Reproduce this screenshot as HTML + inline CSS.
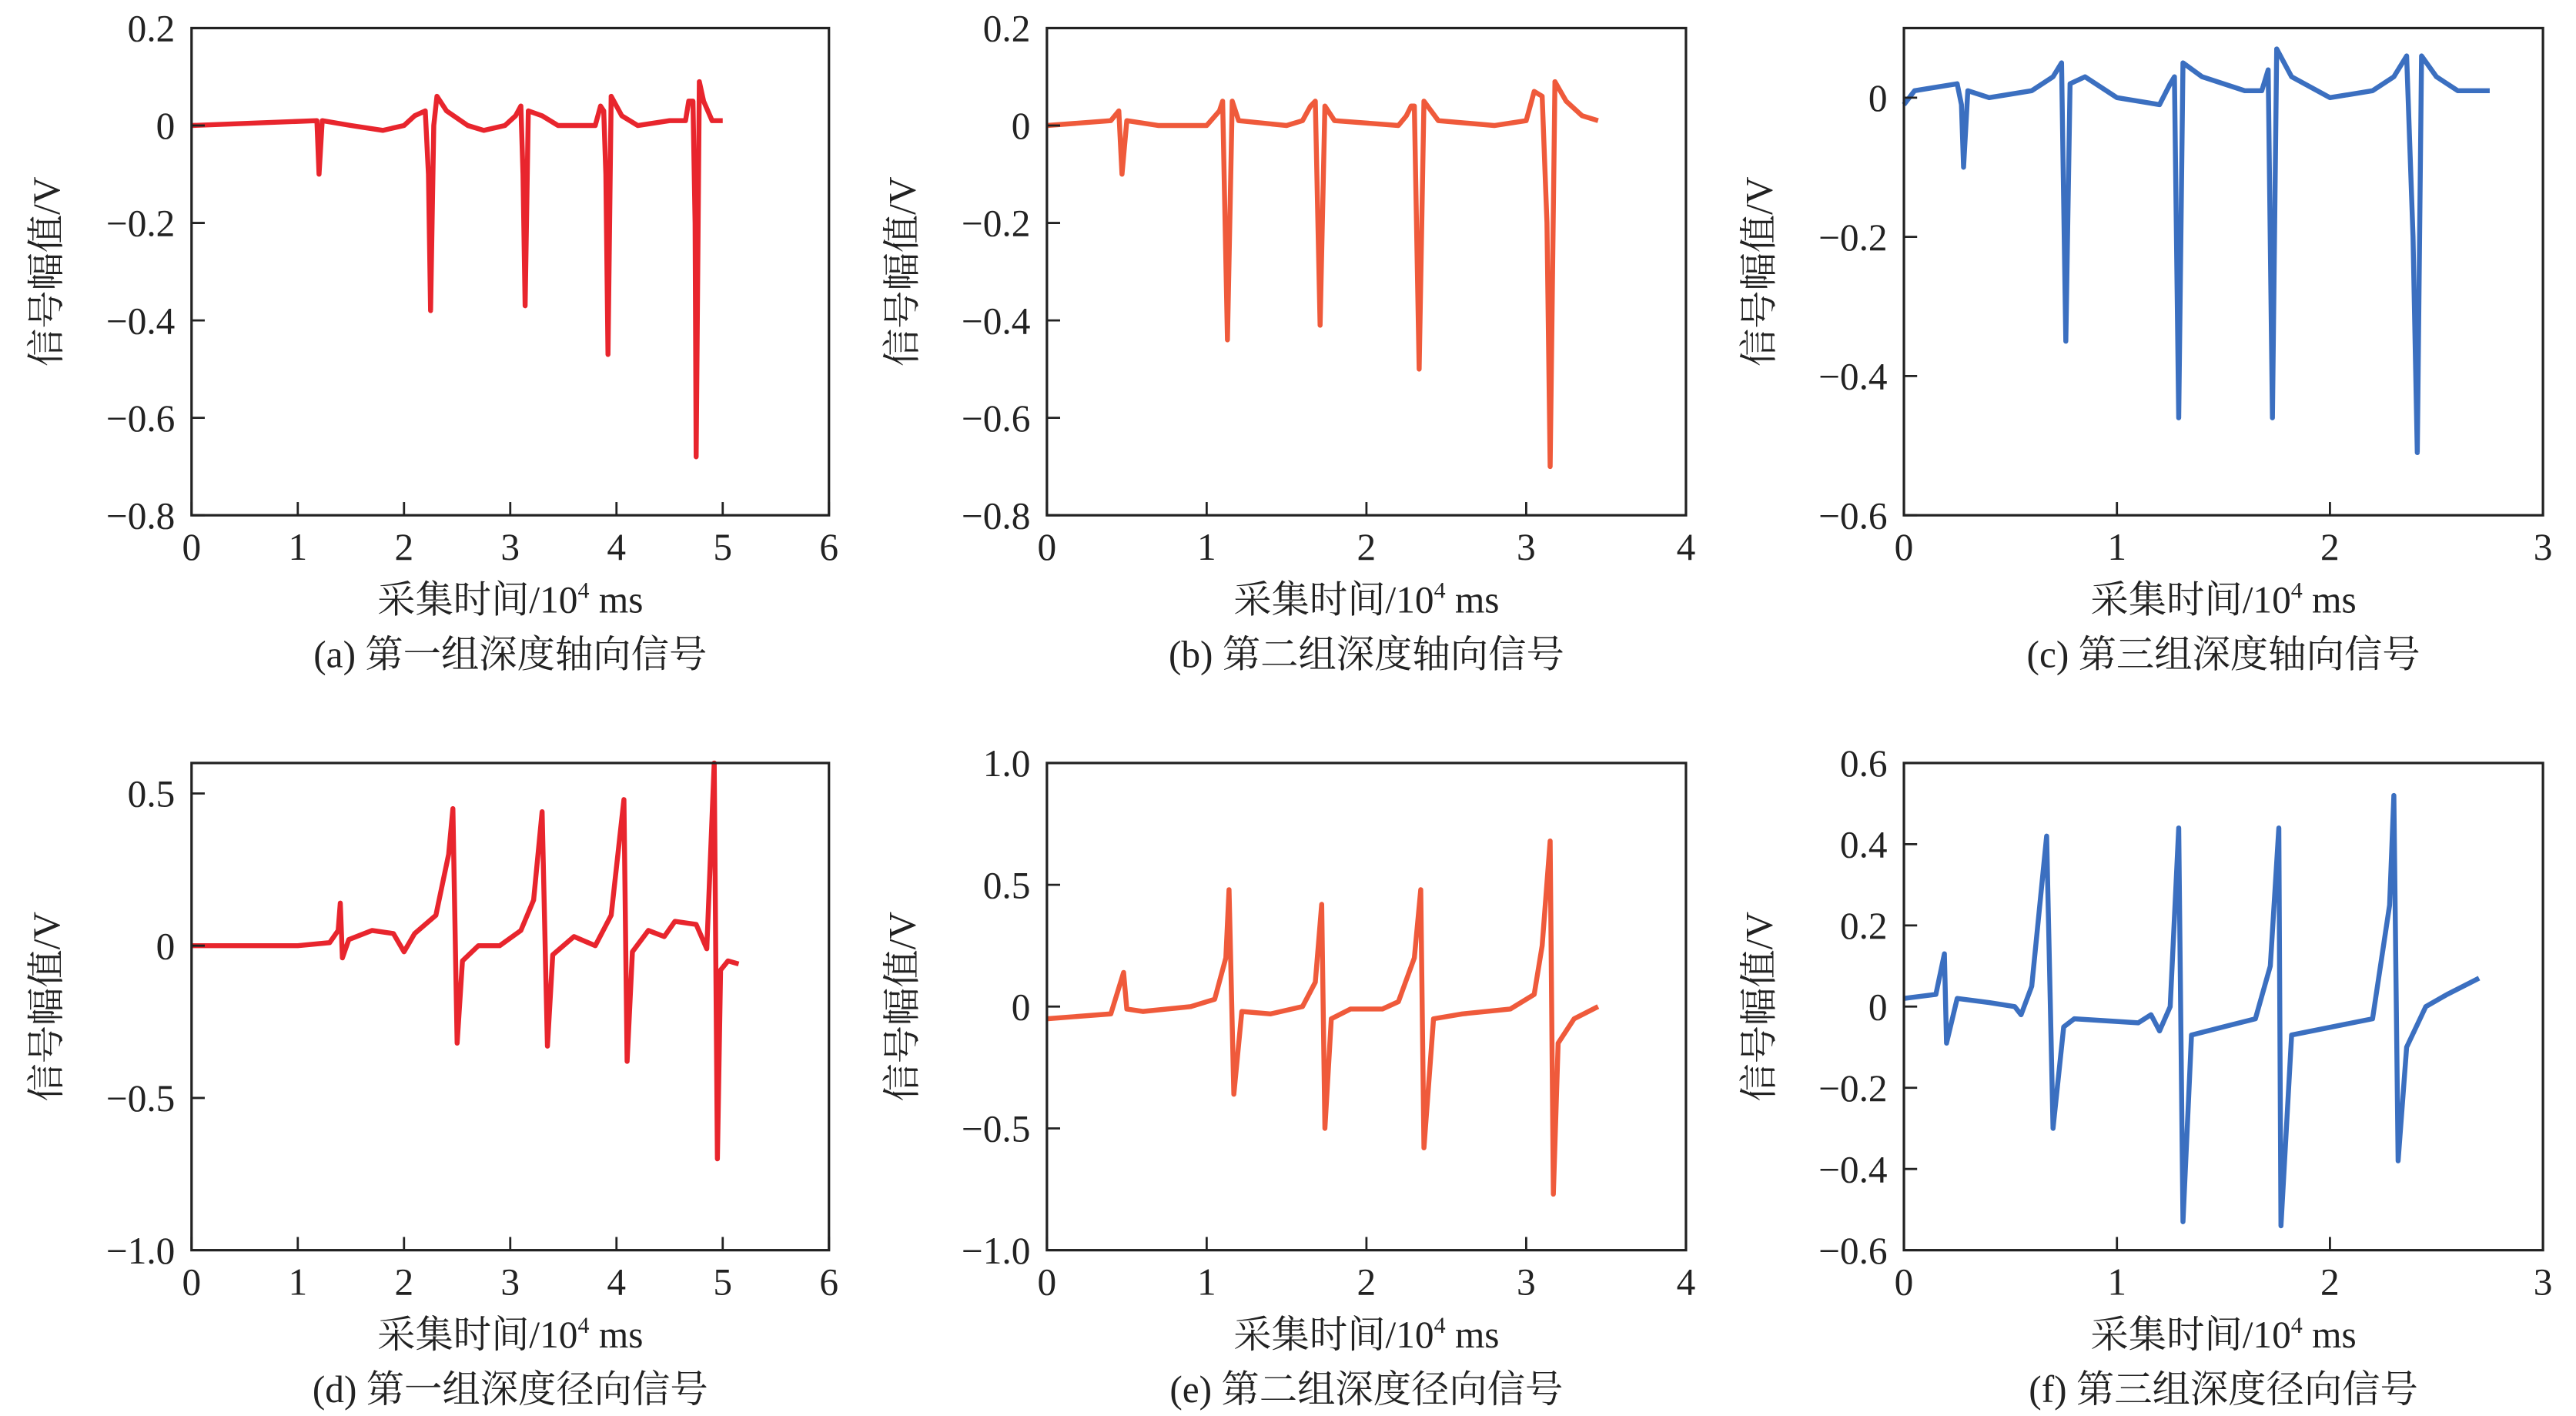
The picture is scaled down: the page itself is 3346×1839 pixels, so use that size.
<!DOCTYPE html>
<html><head><meta charset="utf-8"><style>
html,body{margin:0;padding:0;background:#fff;}
svg{display:block;}
svg text{font-family:"Liberation Serif","Times New Roman","Noto Serif CJK SC",serif !important;fill:#222;}
</style></head><body>
<svg id="fig" xmlns="http://www.w3.org/2000/svg" width="3346" height="1839" viewBox="0 0 1560 857.4" font-family="Liberation Serif, Noto Serif CJK SC, serif"></svg>
<script>
const dataA=[[0,0],[1.18,0.01],[1.2,-0.1],[1.23,0.01],[1.5,0],[1.8,-0.01],[2.0,0],[2.1,0.02],[2.2,0.03],[2.23,-0.1],[2.25,-0.38],[2.28,0.0],[2.31,0.06],[2.4,0.03],[2.6,0],[2.75,-0.01],[2.95,0],[3.05,0.02],[3.1,0.04],[3.12,-0.1],[3.14,-0.37],[3.17,0.03],[3.3,0.02],[3.45,0.0],[3.8,0.0],[3.85,0.04],[3.88,0.03],[3.9,-0.1],[3.92,-0.47],[3.95,0.06],[4.05,0.02],[4.2,0],[4.5,0.01],[4.65,0.01],[4.68,0.05],[4.72,0.05],[4.74,-0.2],[4.75,-0.68],[4.78,0.09],[4.82,0.05],[4.9,0.01],[5.0,0.01]];
const dataB=[[0,0],[0.4,0.01],[0.45,0.03],[0.47,-0.1],[0.5,0.01],[0.7,0],[1.0,0],[1.08,0.03],[1.1,0.05],[1.13,-0.44],[1.16,0.05],[1.2,0.01],[1.5,0],[1.6,0.01],[1.65,0.04],[1.68,0.05],[1.71,-0.41],[1.74,0.04],[1.8,0.01],[2.2,0],[2.25,0.02],[2.28,0.04],[2.3,0.04],[2.33,-0.5],[2.36,0.05],[2.45,0.01],[2.8,0],[3.0,0.01],[3.05,0.07],[3.1,0.06],[3.13,-0.2],[3.15,-0.7],[3.18,0.09],[3.25,0.05],[3.35,0.02],[3.45,0.01]];
const dataC=[[0,-0.01],[0.05,0.01],[0.25,0.02],[0.27,-0.01],[0.28,-0.1],[0.3,0.01],[0.4,0],[0.6,0.01],[0.7,0.03],[0.74,0.05],[0.76,-0.35],[0.78,0.02],[0.85,0.03],[1.0,0],[1.2,-0.01],[1.25,0.02],[1.27,0.03],[1.29,-0.46],[1.31,0.05],[1.4,0.03],[1.6,0.01],[1.68,0.01],[1.71,0.04],[1.73,-0.46],[1.75,0.07],[1.82,0.03],[2.0,0],[2.2,0.01],[2.3,0.03],[2.36,0.06],[2.39,-0.2],[2.41,-0.51],[2.43,0.06],[2.5,0.03],[2.6,0.01],[2.75,0.01]];
const dataD=[[0,0],[1.0,0],[1.3,0.01],[1.38,0.05],[1.4,0.14],[1.42,-0.04],[1.48,0.02],[1.7,0.05],[1.9,0.04],[2.0,-0.02],[2.1,0.04],[2.3,0.1],[2.42,0.3],[2.46,0.45],[2.5,-0.32],[2.55,-0.05],[2.7,0],[2.9,0.0],[3.1,0.05],[3.22,0.15],[3.3,0.44],[3.35,-0.33],[3.4,-0.03],[3.6,0.03],[3.8,0.0],[3.95,0.1],[4.07,0.48],[4.1,-0.38],[4.15,-0.02],[4.3,0.05],[4.45,0.03],[4.55,0.08],[4.75,0.07],[4.85,-0.01],[4.92,0.6],[4.95,-0.7],[4.98,-0.08],[5.05,-0.05],[5.15,-0.06]];
const dataE=[[0,-0.05],[0.4,-0.03],[0.48,0.14],[0.5,-0.01],[0.6,-0.02],[0.9,0.0],[1.05,0.03],[1.12,0.2],[1.14,0.48],[1.17,-0.36],[1.22,-0.02],[1.4,-0.03],[1.6,0],[1.68,0.1],[1.72,0.42],[1.74,-0.5],[1.78,-0.05],[1.9,-0.01],[2.1,-0.01],[2.2,0.02],[2.3,0.2],[2.34,0.48],[2.36,-0.58],[2.42,-0.05],[2.6,-0.03],[2.9,-0.01],[3.05,0.05],[3.1,0.25],[3.15,0.68],[3.17,-0.77],[3.2,-0.15],[3.3,-0.05],[3.45,0.0]];
const dataF=[[0,0.02],[0.15,0.03],[0.19,0.13],[0.2,-0.09],[0.25,0.02],[0.4,0.01],[0.52,0.0],[0.55,-0.02],[0.6,0.05],[0.67,0.42],[0.7,-0.3],[0.75,-0.05],[0.8,-0.03],[1.1,-0.04],[1.16,-0.02],[1.2,-0.06],[1.25,0.0],[1.29,0.44],[1.31,-0.53],[1.35,-0.07],[1.5,-0.05],[1.65,-0.03],[1.72,0.1],[1.76,0.44],[1.77,-0.54],[1.82,-0.07],[2.2,-0.03],[2.28,0.25],[2.3,0.52],[2.32,-0.38],[2.36,-0.1],[2.45,0.0],[2.55,0.03],[2.7,0.07]];
const xTicksA=[0,1,2,3,4,5,6], xTicksB=[0,1,2,3,4], xTicksC=[0,1,2,3];
const yTicksA=[0.2,0,-0.2,-0.4,-0.6,-0.8], yTicksC=[0,-0.2,-0.4,-0.6];
const yTicksD=[0.5,0,-0.5,-1.0], yTicksE=[1.0,0.5,0,-0.5,-1.0], yTicksF=[0.6,0.4,0.2,0,-0.2,-0.4,-0.6];
const captions=["(a) 第一组深度轴向信号","(b) 第二组深度轴向信号","(c) 第三组深度轴向信号","(d) 第一组深度径向信号","(e) 第二组深度径向信号","(f) 第三组深度径向信号"];

const NS="http://www.w3.org/2000/svg", svg=document.getElementById('fig');
function mk(tag,attrs,parent){const e=document.createElementNS(NS,tag);for(const k in attrs)e.setAttribute(k,attrs[k]);(parent||svg).appendChild(e);return e;}
function fmt(v,dec){if(v===0)return "0";const s=Math.abs(v).toFixed(dec);return (v<0?"\u2212":"")+s;}
const FS=23;
const panels=[
 {L:116,R:502,T:17,B:312,x0:0,x1:6,y0:-0.8,y1:0.2,xt:xTicksA,yt:yTicksA,dec:1,data:dataA,col:"#e8252d"},
 {L:634,R:1021,T:17,B:312,x0:0,x1:4,y0:-0.8,y1:0.2,xt:xTicksB,yt:yTicksA,dec:1,data:dataB,col:"#ef5a3b"},
 {L:1153,R:1540,T:17,B:312,x0:0,x1:3,y0:-0.6,y1:0.1,xt:xTicksC,yt:yTicksC,dec:1,data:dataC,col:"#3b6fc0"},
 {L:116,R:502,T:462,B:757,x0:0,x1:6,y0:-1.0,y1:0.6,xt:xTicksA,yt:yTicksD,dec:1,data:dataD,col:"#e8252d"},
 {L:634,R:1021,T:462,B:757,x0:0,x1:4,y0:-1.0,y1:1.0,xt:xTicksB,yt:yTicksE,dec:1,data:dataE,col:"#ef5a3b"},
 {L:1153,R:1540,T:462,B:757,x0:0,x1:3,y0:-0.6,y1:0.6,xt:xTicksC,yt:yTicksF,dec:1,data:dataF,col:"#3b6fc0"}
];
panels.forEach((p,i)=>{
 const g=mk('g',{});
 
 
 const sx=v=>p.L+(v-p.x0)/(p.x1-p.x0)*(p.R-p.L);
 const sy=v=>p.B-(v-p.y0)/(p.y1-p.y0)*(p.B-p.T);
 const d=p.data.map((pt,j)=>(j?'L':'M')+sx(pt[0]).toFixed(2)+' '+sy(pt[1]).toFixed(2)).join(' ');
 const line=mk('path',{d:d,fill:'none',stroke:p.col,'stroke-width':3,'stroke-linejoin':'round'},g);
 
 
 const box=mk('rect',{x:p.L,y:p.T,width:p.R-p.L,height:p.B-p.T,fill:'none',stroke:'#222','stroke-width':1.5},g);
 
 
 p.xt.forEach(v=>{
  const x=sx(v);
  mk('line',{x1:x,x2:x,y1:p.B,y2:p.B-8,stroke:'#222','stroke-width':1.3},g);
  const t=mk('text',{x:x,y:p.B+27,'font-size':FS,'text-anchor':'middle'},g);
  t.textContent=String(v);
  
  
 });
 p.yt.forEach(v=>{
  const y=sy(v);
  mk('line',{x1:p.L,x2:p.L+8,y1:y,y2:y,stroke:'#222','stroke-width':1.3},g);
  const t=mk('text',{x:p.L-10,y:y+8,'font-size':FS,'text-anchor':'end'},g);
  t.textContent=fmt(v,p.dec);
  
  
 });
 const cx=(p.L+p.R)/2, cy=(p.T+p.B)/2;
 const yl=mk('text',{x:p.L-80,y:cy,'font-size':FS,'text-anchor':'middle',transform:`rotate(-90 ${p.L-80} ${cy})`},g);
 yl.textContent='信号幅值/V';
 
 
 const xl=mk('text',{x:cx,y:p.B+59,'font-size':FS,'text-anchor':'middle'},g);
 xl.innerHTML='采集时间/10<tspan font-size="14" dy="-9">4</tspan><tspan dy="9"> ms</tspan>';
 
 
 const cap=mk('text',{x:cx,y:p.B+92,'font-size':FS,'text-anchor':'middle'},g);
 cap.textContent=captions[i];
 
 
});
</script>
</body></html>
